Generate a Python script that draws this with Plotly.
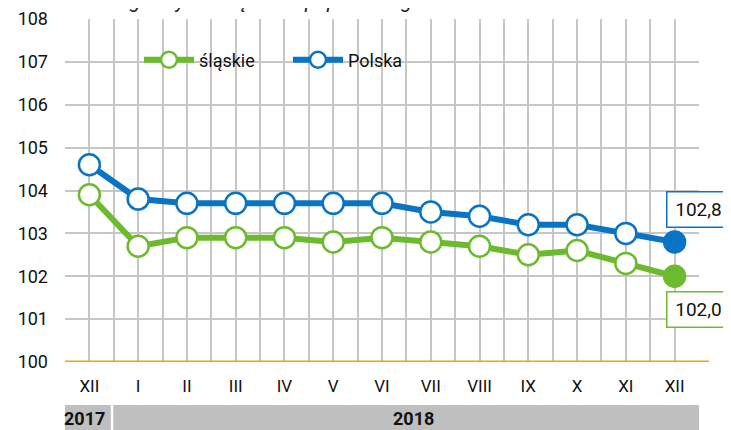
import plotly.graph_objects as go

months = ["XII", "I", "II", "III", "IV", "V", "VI", "VII", "VIII", "IX", "X", "XI", "XII"]
slaskie = [103.9, 102.7, 102.9, 102.9, 102.9, 102.8, 102.9, 102.8, 102.7, 102.5, 102.6, 102.3, 102.0]
polska = [104.6, 103.8, 103.7, 103.7, 103.7, 103.7, 103.7, 103.5, 103.4, 103.2, 103.2, 103.0, 102.8]
years = ["2017", "2018"]
title_text = "analogiczny miesiąc roku poprzedniego = 100"

GREEN = "#6cbb2f"
BLUE = "#0a74c4"
FONT = "Roboto"

xs = list(range(len(months)))
n = len(months)

# page offset (body margin) of 8px -> figure coords = page coords - 8
OFF = 8
L, T, PW, PH = 65 - OFF, 19 - OFF, 634, 343
W, H = 731 - OFF, 430 - OFF


def px_x(page_x):
    return (page_x - 65) / PW


def px_y(page_y):
    return (362 - page_y) / PH


fig = go.Figure()


def add_series(name, vals, color):
    fills = ["white"] * (n - 1) + [color]
    fig.add_trace(go.Scatter(
        x=xs, y=vals, name=name, mode="lines+markers",
        line=dict(color=color, width=6),
        marker=dict(size=21, color=fills, line=dict(color=color, width=2.5)),
        cliponaxis=False,
    ))


add_series("śląskie", slaskie, GREEN)
add_series("Polska", polska, BLUE)

# value labels at last point
fig.add_annotation(x=xs[-1], y=polska[-1], text=f"{polska[-1]:.1f}".replace(".", ","),
                   showarrow=False, xshift=24, yshift=32, bgcolor="white",
                   bordercolor=BLUE, borderwidth=1.5, borderpad=6, width=50, height=22,
                   font=dict(family=FONT, size=19, color="#111"))
fig.add_annotation(x=xs[-1], y=slaskie[-1], text=f"{slaskie[-1]:.1f}".replace(".", ","),
                   showarrow=False, xshift=24, yshift=-33, bgcolor="white",
                   bordercolor=GREEN, borderwidth=1.5, borderpad=6, width=50, height=22,
                   font=dict(family=FONT, size=19, color="#111"))

# year band
fig.add_shape(type="rect", xref="x", yref="paper", x0=-0.66, x1=0.44, y0=px_y(440), y1=px_y(405),
              fillcolor="#bfbfbf", line=dict(width=0), layer="above")
fig.add_shape(type="rect", xref="x", yref="paper", x0=0.49, x1=12.82, y0=px_y(440), y1=px_y(405),
              fillcolor="#bfbfbf", line=dict(width=0), layer="above")
fig.add_annotation(x=-0.11, y=px_y(418), xref="x", yref="paper", text=f"<b>{years[0]}</b>",
                   showarrow=False, yanchor="middle",
                   font=dict(family=FONT, size=18, color="#111"))
fig.add_annotation(x=6.65, y=px_y(418), xref="x", yref="paper", text=f"<b>{years[1]}</b>",
                   showarrow=False, yanchor="middle",
                   font=dict(family=FONT, size=18, color="#111"))

# white box behind legend (covers gridlines)
fig.add_shape(type="rect", xref="paper", yref="paper", x0=px_x(100), x1=px_x(433),
              y0=px_y(80), y1=px_y(37), fillcolor="white",
              line=dict(width=0), layer="between")

# cut-off subtitle at top
fig.add_annotation(x=px_x(80), y=px_y(15), xref="paper", yref="paper",
                   text=f"<i>{title_text}</i>", showarrow=False, xanchor="left", yanchor="bottom",
                   font=dict(family=FONT, size=20, color="#222"))

fig.update_layout(
    width=W, height=H,
    margin=dict(l=L, r=W - L - PW, t=T, b=H - T - PH, autoexpand=False),
    paper_bgcolor="white", plot_bgcolor="white",
    font=dict(family=FONT, size=17, color="#111"),
    showlegend=True,
    legend=dict(orientation="h", x=px_x(139), y=px_y(60), xanchor="left",
                yanchor="middle", bgcolor="rgba(0,0,0,0)",
                font=dict(family=FONT, size=18, color="#111"),
                entrywidth=84, itemwidth=50),
    xaxis=dict(
        range=[-0.5, 12.5], tickvals=xs, ticktext=months, showgrid=True,
        gridcolor="#c6c6c6", gridwidth=1.5, zeroline=False, ticks="", automargin=False,
        tickfont=dict(family=FONT, size=17), ticklabelstandoff=12,
        minor=dict(tickvals=[i - 0.5 for i in range(n + 1)], showgrid=True,
                   gridcolor="#c6c6c6", gridwidth=1.5),
        showline=False,
    ),
    yaxis=dict(
        range=[100, 108], dtick=1, showgrid=True, gridcolor="#c6c6c6", gridwidth=1.5,
        zeroline=False, ticks="", tickfont=dict(family=FONT, size=18), automargin=False,
        ticklabelstandoff=16,
    ),
)

fig.add_shape(type="line", xref="paper", yref="y", x0=0, x1=px_x(709), y0=100, y1=100,
              line=dict(color="#f0a800", width=3), layer="above")

fig.write_html("out.html")
